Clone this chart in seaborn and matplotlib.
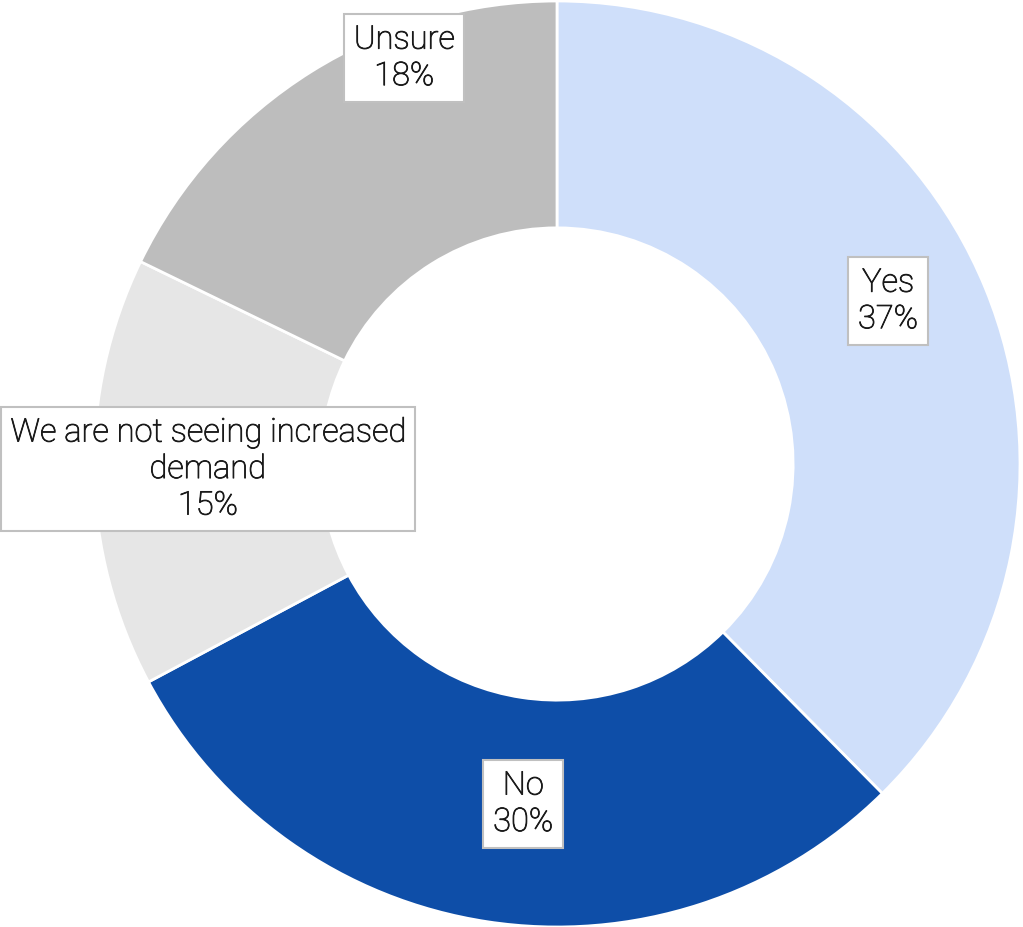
import matplotlib
matplotlib.use("Agg")
import matplotlib.pyplot as plt
import matplotlib.patheffects as pe
import seaborn as sns

categories = ["Yes", "No", "We are not seeing increased\ndemand", "Unsure"]
shares = [37.6, 29.6, 15.0, 17.8]          # slice sizes
pct_labels = ["37%", "30%", "15%", "18%"]  # labels as printed on the chart
colors = ["#cfdffa", "#0e4ea8", "#e6e6e6", "#bdbdbd"]
# label positions (data coords, relative to center, radius 1)
label_pos = [(0.715, 0.352), (-0.073, -0.734), (-0.754, -0.011), (-0.330, 0.877)]

sns.set_theme(style="white")
plt.rcParams['font.family'] = ['Roboto', 'DejaVu Sans']

fig = plt.figure(figsize=(10.23, 9.28), dpi=100)
ax = fig.add_axes([0, 0, 1, 1])
wedges, _ = ax.pie(shares, colors=colors, startangle=90, counterclock=False,
                   radius=1.0, wedgeprops=dict(width=0.49, edgecolor="white", linewidth=2))
ax.set_xlim(-557/463, (1023-557)/463)
ax.set_ylim(-463/463, 465/463)
ax.set_aspect('auto')
ax.axis('off')

for cat, p, (x, y) in zip(categories, pct_labels, label_pos):
    ax.text(x, y, f"{cat}\n{p}", ha="center", va="center", fontsize=23.5,
            fontweight="light", color="#1a1a1a", linespacing=1.18,
            path_effects=[pe.withStroke(linewidth=0.6, foreground="#1a1a1a")],
            bbox=dict(boxstyle="square,pad=0.3", fc="white", ec="#c0c0c0", lw=1.5))

fig.savefig("out.png", dpi=100)
